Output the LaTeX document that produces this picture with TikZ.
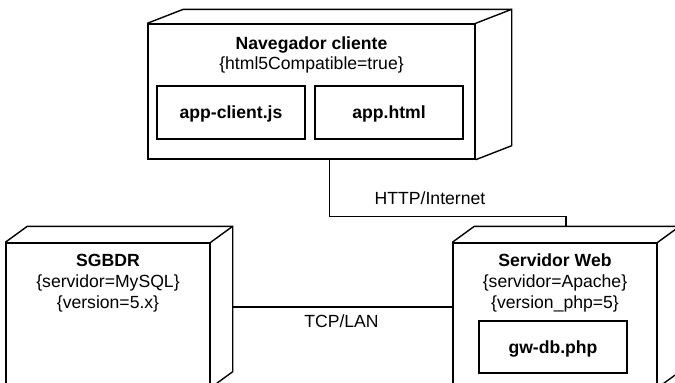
\documentclass[tikz,border=0pt]{standalone}
\usepackage{fontspec}
\setmainfont{Liberation Sans}
\usepackage{tikz}

\tikzset{
  face/.style={draw, line width=1.4pt, inner sep=0pt},
  edge3d/.style={line width=1.4pt, line join=miter},
  conn/.style={line width=1.4pt},
  txt/.style={anchor=base, inner sep=0pt, font=\fontsize{17.6}{20}\selectfont},
  title/.style={txt, font=\fontsize{17.6}{20}\selectfont\bfseries},
}

% back edges of a 3d box: node name, depth x, depth y
\newcommand{\depthof}[3]{%
  \draw[edge3d] (#1.north west) -- ++(#2,#3) -- ([shift={(#2,#3)}]#1.north east)
    -- ([shift={(#2,#3)}]#1.south east) -- (#1.south east);
  \draw[edge3d] (#1.north east) -- ++(#2,#3);
}

\begin{document}
\begin{tikzpicture}[x=1pt,y=-1pt]
\useasboundingbox (0,0) rectangle (675,383);
\clip (0,0) rectangle (675,383);

% browser
\node[face, minimum width=327pt, minimum height=135pt] (nav) at (311.5,91.5) {};
\depthof{nav}{36}{-14}
\node[title] (navtitle) at (311.5,49) {Navegador cliente};
\node[txt] (navprop) at (311.5,69) {\{html5Compatible=true\}};
\node[face, minimum width=148pt, minimum height=53pt] (appjs) at (231,112.5) {};
\node[title] (appjstxt) at (231,118) {app-client.js};
\node[face, minimum width=148pt, minimum height=53pt] (apphtml) at (389,112.5) {};
\node[title] (apphtmltxt) at (389,118) {app.html};

% database
\node[face, minimum width=204pt, minimum height=144pt] (db) at (108,315) {};
\depthof{db}{22}{-16}
\node[title] (dbtitle) at (108,266) {SGBDR};
\node[txt] (dbprop1) at (108,287.5) {\{servidor=MySQL\}};
\node[txt] (dbprop2) at (108,308) {\{version=5.x\}};

% web server
\node[face, minimum width=204pt, minimum height=144pt] (web) at (555,315) {};
\depthof{web}{22}{-16}
\node[title] (webtitle) at (555,266) {Servidor Web};
\node[txt] (webprop1) at (555,287.5) {\{servidor=Apache\}};
\node[txt] (webprop2) at (555,308) {\{version\_php=5\}};
\node[face, minimum width=148pt, minimum height=52pt] (gwdb) at (553,347) {};
\node[title] (gwdbtxt) at (553,353) {gw-db.php};

% links
\coordinate (navbot) at ([xshift=18pt]nav.south);
\coordinate (webtop) at ([shift={(11,-16)}]web.north);
\draw[conn] (navbot) -- ++(0,57) -| (webtop);
\node[txt] (http) at (430,204) {HTTP/Internet};

\coordinate (dbside) at ([shift={(22,-8)}]db.east);
\draw[conn] (dbside) -- (dbside -| web.west);
\node[txt] (tcp) at (341.5,327) {TCP/LAN};
\end{tikzpicture}
\end{document}
